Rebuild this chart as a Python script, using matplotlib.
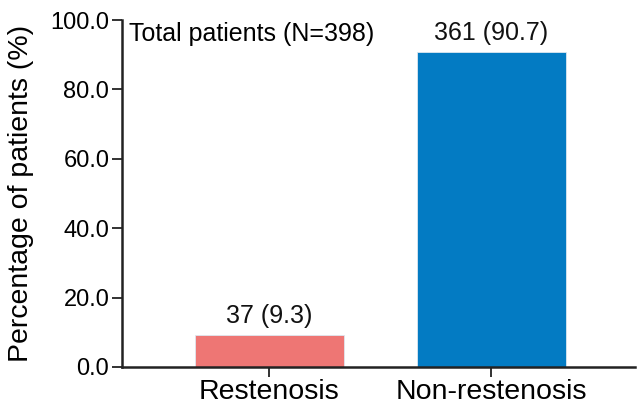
import matplotlib
matplotlib.use("Agg")
import matplotlib.pyplot as plt

categories = ["Restenosis", "Non-restenosis"]
counts = [37, 361]
percents = [9.3, 90.7]
total_label = "Total patients (N=398)"
colors = ["#EE7674", "#037BC3"]
yticks = [0, 20, 40, 60, 80, 100]

plt.rcParams['font.family'] = ['Liberation Sans', 'DejaVu Sans']

fig = plt.figure(figsize=(6.38, 4.09), dpi=100)
ax = fig.add_axes([0.191, 0.1027, 0.805, 0.8483])
x = range(len(categories))
bars = ax.bar(x, percents, width=0.67, color=colors, edgecolor="#dde8f0", linewidth=0.6)
for xi, c, p in zip(x, counts, percents):
    ax.text(xi, p + 2.0, f"{c} ({p})", ha="center", va="bottom", fontsize=18, color="#111111")

ax.set_xlim(-0.664, 1.65)
ax.set_ylim(0, 100)
ax.set_yticks(yticks)
ax.set_yticklabels([f"{v:.1f}" for v in yticks], fontsize=17)
ax.set_xticks(list(x))
ax.set_xticklabels(categories, fontsize=20.5)
ax.set_ylabel("Percentage of patients (%)", fontsize=20.5, labelpad=12)
for s in ["top", "right"]:
    ax.spines[s].set_visible(False)
for s in ["left", "bottom"]:
    ax.spines[s].set_linewidth(1.8)
    ax.spines[s].set_color("#222222")
ax.tick_params(axis="both", width=1.3, length=7, color="#222222", pad=2)
ax.text(0.014, 0.995, total_label, transform=ax.transAxes, ha="left", va="top", fontsize=18)

fig.savefig("out.png", dpi=100)
